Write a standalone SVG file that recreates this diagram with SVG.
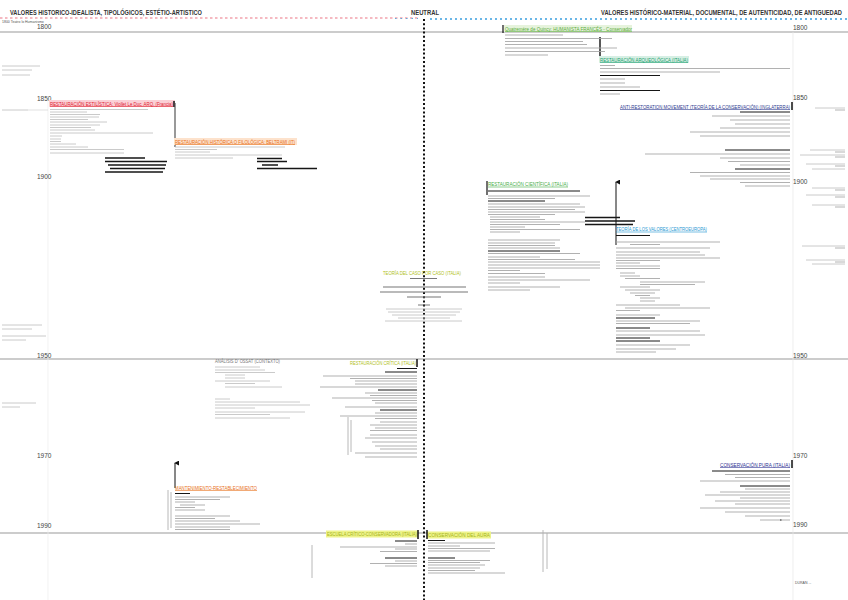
<svg xmlns="http://www.w3.org/2000/svg" width="848" height="600" viewBox="0 0 848 600">
<style>
text{font-family:"Liberation Sans","DejaVu Sans",sans-serif}
.hd{font-size:7px;font-weight:bold;fill:#333}
.yr{font-size:6.5px;fill:#444}
.h{font-size:5.4px}
.g{stroke:#c4c4c4;stroke-width:0.9;fill:none}
.d{stroke:#a8a8a8;stroke-width:0.9;fill:none}
.k{stroke:#161616;stroke-width:1.4;fill:none}
.rot{stroke:#b0b0b0;stroke-width:0.9;fill:none}
.tl{stroke:#9a9a9a;stroke-width:1.2}
.ul{stroke-width:0.6}
</style>
<defs>
<marker id="ah" viewBox="0 0 6 6" refX="3" refY="1" markerWidth="5" markerHeight="5" orient="auto-start-reverse"><path d="M0,6 L3,0 L6,6 z" fill="#111"/></marker>
</defs>
<rect width="848" height="600" fill="#fff"/>

<g id="header">
<text class="hd" x="10" y="15" textLength="192" lengthAdjust="spacingAndGlyphs">VALORES HISTORICO-IDEALISTA, TIPOLÓGICOS, ESTÉTIO-ARTISTICO</text>
<text class="hd" x="411" y="15" textLength="28" lengthAdjust="spacingAndGlyphs">NEUTRAL</text>
<text class="hd" x="601" y="15" font-size="6.6" textLength="241" lengthAdjust="spacingAndGlyphs">VALORES HISTÓRICO-MATERIAL, DOCUMENTAL, DE AUTENTICIDAD, DE ANTIGUEDAD</text>
<line x1="0" y1="18" x2="418" y2="18" stroke="#f2a3ad" stroke-width="1.4" stroke-dasharray="2.5,2.5"/>
<line x1="395" y1="18.5" x2="418" y2="18.5" stroke="#5aaee0" stroke-width="1.2" stroke-dasharray="1.5,4"/>
<line x1="430" y1="19" x2="848" y2="19" stroke="#3a9ee0" stroke-width="1.4" stroke-dasharray="2,3"/>
<text x="2" y="23" font-size="3.5" fill="#555">1800  Teatro  lo  Humanismo</text>
</g>

<g id="timeline">
<line class="tl" x1="0" y1="32" x2="848" y2="32"/>
<line class="tl" x1="0" y1="359" x2="848" y2="359"/>
<line class="tl" x1="0" y1="533" x2="848" y2="533"/>
<line x1="48" y1="100" x2="48" y2="600" stroke="#ececec" stroke-width="0.7"/>
<line x1="793" y1="32" x2="793" y2="600" stroke="#e6e6e6" stroke-width="0.7"/>
<line x1="424" y1="19" x2="424" y2="600" stroke="#111" stroke-width="2" stroke-dasharray="2,2.2"/>
<text class="yr" x="37" y="29">1800</text>
<text class="yr" x="37" y="101">1850</text>
<text class="yr" x="37" y="179">1900</text>
<text class="yr" x="37" y="358">1950</text>
<text class="yr" x="37" y="458">1970</text>
<text class="yr" x="37" y="528">1990</text>
<text class="yr" x="793" y="30">1800</text>
<text class="yr" x="793" y="100">1850</text>
<text class="yr" x="793" y="184">1900</text>
<text class="yr" x="793" y="358">1950</text>
<text class="yr" x="793" y="458">1970</text>
<text class="yr" x="793" y="527">1990</text>
</g>

<g id="margins">
<path class="g" d="M2 66h38M2 70h30M2 75h28M2 110h26M2 325h40M2 329h30M2 336h44M2 340h24M2 403h34M2 407h18"/>
<line x1="28" y1="110" x2="48" y2="110" stroke="#ccc" stroke-width="0.6"/>
<path class="g" d="M815 108h30M810 150h35M800 155h45M806 164h39M812 169h33M812 188h33M806 195h39M812 205h33M802 246h43M806 260h39M812 264h33"/>
<path d="M835 110h10M835 152h10M835 157h10M835 166h10M835 190h10M835 197h10M835 207h10M835 248h10M835 262h10" stroke="#666" stroke-width="0.5"/>
<text x="795" y="584" font-size="3.5" fill="#555">DURÁN  ...</text>
</g>

<g id="connectors">
<line x1="175" y1="103" x2="175" y2="147" stroke="#999" stroke-width="2"/>
<line x1="600" y1="37" x2="600" y2="62" stroke="#111" stroke-width="1.4"/>
<line x1="616" y1="245" x2="616" y2="182" stroke="#111" stroke-width="1" marker-end="url(#ah)"/>
<line x1="175" y1="488" x2="175" y2="463" stroke="#111" stroke-width="1" marker-end="url(#ah)"/>
</g>

<g id="estilistica">
<rect x="49" y="100" width="126" height="7" fill="#fbd0d6"/>
<text class="h" x="50" y="105.5" fill="#e0202f" textLength="123" lengthAdjust="spacingAndGlyphs">RESTAURACIÓN ESTILÍSTICA: Viollet Le Duc, ARQ. (Francia)</text>
<line x1="50" y1="106.5" x2="173" y2="106.5" stroke="#e0202f" class="ul"/>
<line x1="174" y1="101" x2="174" y2="107" stroke="#111" stroke-width="1.5"/>
<path class="g" d="M50 109.5h98M50 112h37M50 114.5h50M50 117h49M50 119.5h38M50 122h57M50 125h50M50 127.5h41M50 130h45M50 133h103M50 136h12M50 139h11M50 141.5h11M50 144h26M50 147h38M50 149.5h74M50 153h74"/>
<path class="k" d="M105 158h40M105 161.5h62M108 165h58M110 168.5h55M105 172h58"/>
</g>

<g id="filologica">
<rect x="174" y="138" width="123" height="7" fill="#fde2cc"/>
<text class="h" x="175" y="143.5" fill="#e8701a" textLength="120" lengthAdjust="spacingAndGlyphs">RESTAURACIÓN HISTÓRICA O FILOLÓGICA: BELTRAMI (IT)</text>
<line x1="175" y1="144.5" x2="295" y2="144.5" stroke="#e8701a" class="ul"/>
<path class="g" d="M175 147h110M175 149.5h42M175 152h35M175 155h107M175 158h58"/>
<path class="k" d="M257 158.5h25M257 161.5h30M262 165h16M257 168.5h60"/>
</g>

<g id="quatremere">
<rect x="504" y="25" width="128" height="7" fill="#e6f3dc"/>
<line x1="503" y1="25" x2="503" y2="33" stroke="#111" stroke-width="1.2"/>
<text class="h" x="505" y="30.5" fill="#5aaa3a" textLength="127" lengthAdjust="spacingAndGlyphs">Quatremère de Quincy: HUMANISTA FRANCÉS - Conservador</text>
<line x1="505" y1="31.5" x2="632" y2="31.5" stroke="#5aaa3a" class="ul"/>
<path class="d" d="M505 35h58M505 38.5h107M505 41.5h78M505 44.5h82M505 48h112M505 51.5h100M505 55h43"/>
</g>

<g id="arqueologica">
<rect x="599" y="56" width="90" height="7" fill="#d6efe4"/>
<text class="h" x="600" y="61.5" fill="#1a9e6e" textLength="88" lengthAdjust="spacingAndGlyphs">RESTAURACIÓN ARQUEOLÓGICA (ITALIA)</text>
<line x1="600" y1="62.5" x2="688" y2="62.5" stroke="#1a9e6e" class="ul"/>
<path class="d" d="M600 65.5h15M600 68.5h190M600 72h120M600 79h25M600 83h25M600 87h40M600 94h20"/>
<path class="k" style="stroke-width:1" d="M600 75.5h60M600 90.5h60"/>
</g>

<g id="anti">
<text class="h" x="620" y="108.5" fill="#2e3a8f" textLength="170" lengthAdjust="spacingAndGlyphs">ANTI-RESTORATION MOVEMENT (TEORÍA DE LA CONSERVACIÓN) (INGLATERRA)</text>
<line x1="620" y1="109.5" x2="790" y2="109.5" stroke="#2e3a8f" class="ul"/>
<line x1="792" y1="102" x2="792" y2="110" stroke="#111" stroke-width="1.5"/>
<path class="k" style="stroke-width:1" d="M740 112h50M725 150h65M735 169h55"/>
<path class="d" d="M712 116h78M730 120h60M735 124h55M720 128h70M690 132h100M700 136h90M645 154h145M720 158h70M728 161.5h62M740 165h50M690 172.5h100M700 176h90M710 179h80M740 182.5h50M745 186h45"/>
</g>

<g id="cientifica">
<line x1="487" y1="181" x2="487" y2="195" stroke="#111" stroke-width="1.2"/>
<text class="h" x="488" y="186" fill="#45ad45" textLength="80" lengthAdjust="spacingAndGlyphs">RESTAURACIÓN CIENTÍFICA (ITALIA)</text>
<line x1="488" y1="187" x2="568" y2="187" stroke="#45ad45" class="ul"/>
<path class="k" style="stroke-width:1" d="M488 191h92M488 201h57M488 251h72"/>
<path class="d" d="M488 196h102M488 198.5h67M488 204h92M488 207h97M488 209.5h87M488 212h97M488 214.5h67M490 217h50M490 219.5h55M490 222h95M490 224.5h70M490 227h35M490 229.5h90M490 232h30M488 240h72M488 243h67M488 245.5h67M488 248h72M488 253.5h92M488 257h52M488 259.5h87M488 262h112M488 265h112M488 268h112M488 270.5h32M488 273.5h57M488 277h57M488 280h102M488 283h32M488 287h72M488 290h42"/>
<path class="k" d="M585 217.5h35M585 221h50M585 224.5h48"/>
</g>

<g id="valores">
<text class="h" x="616" y="231" fill="#1e96d2" textLength="91" lengthAdjust="spacingAndGlyphs">TEORÍA DE LOS VALORES (CENTROEUROPA)</text>
<line x1="616" y1="232" x2="707" y2="232" stroke="#1e96d2" class="ul"/>
<path class="k" style="stroke-width:1" d="M616 235.5h34M616 318h39M616 328h34M616 338h34M616 341h44"/>
<path class="d" d="M616 242h104M630 244.5h30M616 248h94M616 252h84M616 255h89M616 258h104M616 260.5h44M616 263h24M616 266h44M616 268.5h44M620 273h15M620 276h20M625 278.5h35M640 282h65M640 284.5h55M620 287h30M625 290h35M630 293h25M635 295.5h15M640 298h20M640 301h15M616 305h64M625 308h85M616 310.5h24M616 315h44M616 321h84M616 323.5h74M616 331h84M616 335h89M616 345h74M616 349h60M616 352h40"/>
</g>

<g id="casoporcaso">
<text class="h" x="383" y="274.5" fill="#b0c020" textLength="78" lengthAdjust="spacingAndGlyphs">TEORÍA DEL CASO POR CASO (ITALIA)</text>
<path stroke="#555" stroke-width="0.8" fill="none" d="M410 278.5h27"/>
<path stroke="#777" stroke-width="1.1" fill="none" d="M383 287h83M380 292h88M407 297h34"/>
<path stroke="#555" stroke-width="0.8" fill="none" d="M418 305h12"/>
<path class="g" d="M386 309h76M388 312h72M392 315h64M398 318h52M385 321h77"/>
</g>

<g id="critica">
<line x1="417" y1="359" x2="417" y2="367" stroke="#111" stroke-width="1.5"/>
<text class="h" x="350" y="365" fill="#b0c020" textLength="66" lengthAdjust="spacingAndGlyphs">RESTAURACIÓN CRÍTICA (ITALIA)</text>
<path class="k" style="stroke-width:1" d="M397 368.5h20M385 372h32M378 390h39M380 410h37"/>
<path class="d" d="M323 376h94M350 378.5h67M355 381h62M355 384h62M320 387h97M365 393h52M370 395.5h47M332 398h85M372 400.5h45M375 403h42M345 407h72M375 413h42M340 416h77M375 418.5h42M380 422h37M370 425h47M375 428h42M370 430.5h47M370 435h47M365 438h52M372 442h45M375 446h42M380 449h37M355 453h62M365 457h52"/>
<path class="rot" d="M348 417v38M351 420v32"/>
</g>

<g id="dossat">
<text class="h" x="215" y="363" fill="#777" textLength="65" lengthAdjust="spacingAndGlyphs">ANÁLISIS D' OSSAT (CONTEXTO)</text>
<path class="g" d="M215 367h45M215 370h50M215 372.5h60M225 375h20M225 378h20M215 381h55M225 383.5h30M225 387h57M215 399h15M215 402h85M215 405h95M215 408h40M215 412h90M215 414.5h55M215 418h75"/>
</g>

<g id="mantenimiento">
<text class="h" x="175" y="489.5" fill="#e8701a" textLength="82" lengthAdjust="spacingAndGlyphs">MANTENIMIENTO-RESTABLECIMIENTO</text>
<line x1="175" y1="490.5" x2="257" y2="490.5" stroke="#e8701a" class="ul"/>
<path class="k" style="stroke-width:1" d="M175 493.5h15"/>
<path class="d" d="M175 497h55M175 499.5h45M175 502h20M180 505h25M175 507.5h20M175 510h30M175 516h55M175 518.5h40M175 521h65M175 524h85M175 527h55M175 529.5h55"/>
<path class="rot" d="M168 490v40M171 492v36"/>
</g>

<g id="pura">
<text class="h" x="720" y="466.5" fill="#2e3192" textLength="70" lengthAdjust="spacingAndGlyphs">CONSERVACIÓN PURA (ITALIA)</text>
<line x1="720" y1="467.5" x2="790" y2="467.5" stroke="#2e3192" class="ul"/>
<line x1="792" y1="460" x2="792" y2="468" stroke="#111" stroke-width="1.5"/>
<path class="k" style="stroke-width:1" d="M712 471h78M740 486h50"/>
<path class="d" d="M725 474.5h65M735 477.5h55M700 481h90M745 489h45M720 492h70M705 495h85M740 498h50M715 501h75M735 504h55M700 508h90M725 512h65M745 516h45M760 520h30"/>
<path d="M780 520h1.5" stroke="#333" stroke-width="1"/>
</g>

<g id="escuela">
<rect x="326" y="530.5" width="92" height="7" fill="#eef38a"/>
<text x="327" y="536" font-size="4.6" fill="#a6b41a" textLength="90" lengthAdjust="spacingAndGlyphs">ESCUELA CRÍTICO-CONSERVADORA (ITALIA)</text>
<line x1="418" y1="530" x2="418" y2="539" stroke="#111" stroke-width="1.5"/>
<path class="k" style="stroke-width:1" d="M395 541h22M385 558h32"/>
<path class="d" d="M405 544h12M340 547h77M395 549h22M380 551.5h37M395 561h22M370 563.5h47M385 566h32"/>
<path class="rot" d="M312 545v33"/>
</g>

<g id="aura">
<rect x="427" y="531.5" width="64" height="7" fill="#eef38a"/>
<line x1="427" y1="530" x2="427" y2="539" stroke="#111" stroke-width="1.5"/>
<text class="h" x="428" y="537" fill="#a6b41a" textLength="62" lengthAdjust="spacingAndGlyphs">CONSERVACIÓN DEL AURA</text>
<path class="k" style="stroke-width:1" d="M428 540.5h17M428 558h27"/>
<path class="d" d="M428 543h67M428 546h32M428 548.5h67M428 551h62M428 560.5h62M428 562.5h52M428 565h57M428 568h52M428 570.5h47M428 573h77"/>
<path class="rot" d="M543 530v42M547 533v36"/>
</g>
</svg>
